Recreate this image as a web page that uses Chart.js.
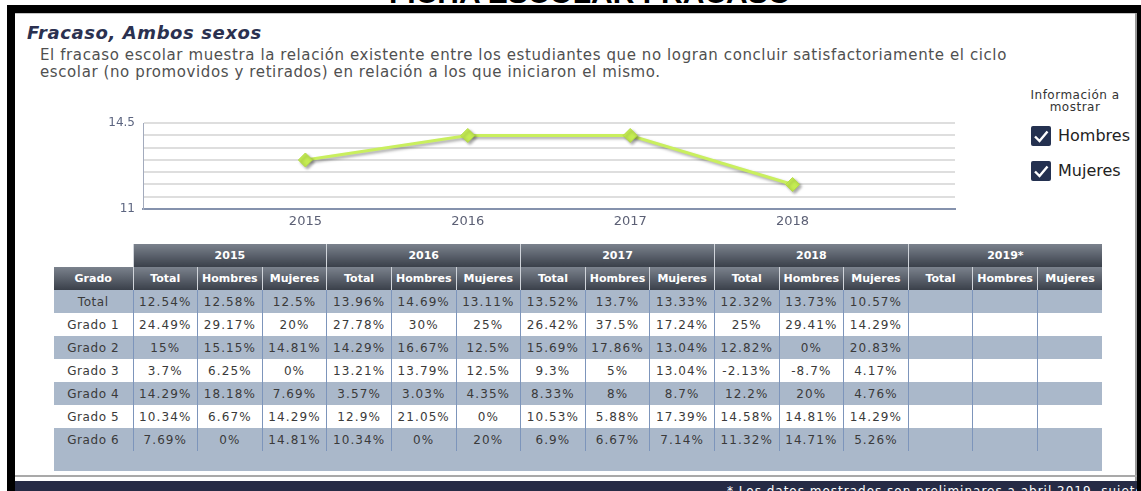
<!DOCTYPE html>
<html>
<head>
<meta charset="utf-8">
<script src="https://cdn.jsdelivr.net/npm/chart.js@4.4.1/dist/chart.umd.min.js"></script>
<style>
  html, body { margin: 0; padding: 0; background: #fff; }
  body { width: 1141px; height: 491px; position: relative; overflow: hidden; font-family: "DejaVu Sans", Verdana, sans-serif; }
  .abs { position: absolute; }
  .heading { left: 290px; top: -22px; width: 600px; text-align: center; font: bold 30px/30px "Liberation Sans", Arial, sans-serif; color: #000; }
  .bar { background: #000; }
  .title { left: 27px; top: 23px; font-size: 18px; line-height: 20px; letter-spacing: 0.6px; font-weight: bold; font-style: italic; color: #2b3150; white-space: nowrap; }
  .desc { left: 40px; top: 47px; font-size: 15px; line-height: 17px; letter-spacing: 0.6px; color: #505050; white-space: nowrap; }
  .info { left: 1015px; top: 89px; width: 120px; text-align: center; font-size: 12px; line-height: 12px; letter-spacing: 0.5px; color: #333; }
  .chk { width: 20px; height: 20px; background: #243150; border-radius: 2px; }
  .chklbl { font-size: 16px; line-height: 20px; color: #222; }
  table { border-collapse: collapse; table-layout: fixed; font-size: 12px; letter-spacing: 1.1px; color: #3a3a3a; }
  td, th { padding: 0; text-align: center; white-space: nowrap; overflow: hidden; }
  th { color: #fff; font-weight: bold; font-size: 11px; letter-spacing: 0; background: linear-gradient(#7b828d, #3a404a); border-left: 1px solid #d0d4da; }
  tr.yr th { height: 21px; }
  tr.sub th { height: 23px; }
  td { height: 23px; border-left: 1px solid #7d95bb; }
  td.g { border-left: none; letter-spacing: 0.6px; }
  tr.sh td { background: #aab8ca; }
  tr.blank td { height: 20px; border-left: none; background: #aab8ca; }
  .foot { left: 15px; top: 481px; width: 1122px; height: 10px; background: #262b45; overflow: hidden; }
  .foot span { position: absolute; left: 712px; top: 3px; color: #fff; font-size: 12px; letter-spacing: 1px; white-space: nowrap; }
</style>
</head>
<body>
<div class="abs heading">FICHA ESCOLAR FRACASO</div>
<div class="abs bar" style="left:7px;top:5px;width:1134px;height:8px"></div>
<div class="abs bar" style="left:7px;top:5px;width:8px;height:486px"></div>
<div class="abs bar" style="left:1137px;top:5px;width:4px;height:486px"></div>
<div class="abs" style="left:15px;top:13px;width:1122px;height:1px;background:#c4c4c4"></div>
<div class="abs" style="left:1135px;top:13px;width:2px;height:468px;background:#9a9a9a"></div>
<div class="abs" style="left:15px;top:475px;width:1122px;height:2px;background:#a9a9a9"></div>
<div class="abs foot"><span>* Los datos mostrados son preliminares a abril 2019, sujetos a modificación</span></div>

<div class="abs title">Fracaso, Ambos sexos</div>
<div class="abs desc">El fracaso escolar muestra la relación existente entre los estudiantes que no logran concluir satisfactoriamente el ciclo<br>escolar (no promovidos y retirados) en relación a los que iniciaron el mismo.</div>

<div class="abs info">Información a<br>mostrar</div>
<div class="abs chk" style="left:1031px;top:126px"><svg width="20" height="20"><path d="M4 10.5 L8.5 15 L16.5 5.5" stroke="#fff" stroke-width="2.4" fill="none"/></svg></div>
<div class="abs chklbl" style="left:1058px;top:126px">Hombres</div>
<div class="abs chk" style="left:1031px;top:161px"><svg width="20" height="20"><path d="M4 10.5 L8.5 15 L16.5 5.5" stroke="#fff" stroke-width="2.4" fill="none"/></svg></div>
<div class="abs chklbl" style="left:1058px;top:161px">Mujeres</div>

<canvas id="grafica" class="abs" style="left:80px;top:108px" width="890" height="129"></canvas>

<table id="tabla" class="abs" style="left:54px;top:244px;width:1048px"></table>

<script>
// line chart: yearly failure rate (rounded), empty slots at both ends
const anios = ["2015", "2016", "2017", "2018"];
const ejeX = ["", ...anios, ""];
const fracasoTotal = [null, 13, 14, 14, 12, null];

// table
const aniosTabla = ["2015", "2016", "2017", "2018", "2019*"];
const columnas = ["Total", "Hombres", "Mujeres"];
const grados = ["Total", "Grado 1", "Grado 2", "Grado 3", "Grado 4", "Grado 5", "Grado 6"];
// rows: [Total, Hombres, Mujeres] per grado
const tabla2015 = [[12.54, 12.58, 12.5], [24.49, 29.17, 20], [15, 15.15, 14.81], [3.7, 6.25, 0], [14.29, 18.18, 7.69], [10.34, 6.67, 14.29], [7.69, 0, 14.81]];
const tabla2016 = [[13.96, 14.69, 13.11], [27.78, 30, 25], [14.29, 16.67, 12.5], [13.21, 13.79, 12.5], [3.57, 3.03, 4.35], [12.9, 21.05, 0], [10.34, 0, 20]];
const tabla2017 = [[13.52, 13.7, 13.33], [26.42, 37.5, 17.24], [15.69, 17.86, 13.04], [9.3, 5, 13.04], [8.33, 8, 8.7], [10.53, 5.88, 17.39], [6.9, 6.67, 7.14]];
const tabla2018 = [[12.32, 13.73, 10.57], [25, 29.41, 14.29], [12.82, 0, 20.83], [-2.13, -8.7, 4.17], [12.2, 20, 4.76], [14.58, 14.81, 14.29], [11.32, 14.71, 5.26]];
const tabla2019 = [[], [], [], [], [], [], []];
const tablas = [tabla2015, tabla2016, tabla2017, tabla2018, tabla2019];

// build table
const tbl = document.getElementById("tabla");
let html = '<colgroup><col style="width:79px">';
for (let i = 0; i < 15; i++) html += '<col style="width:64.6px">';
html += '</colgroup><tr class="yr"><td class="g" style="border:none;background:#fff"></td>';
aniosTabla.forEach((a) => { html += '<th colspan="3">' + a + '</th>'; });
html += '</tr><tr class="sub"><th style="border-left:none">Grado</th>';
aniosTabla.forEach(() => columnas.forEach((c) => { html += '<th>' + c + '</th>'; }));
html += '</tr>';
grados.forEach((g, r) => {
  html += '<tr class="' + (r % 2 === 0 ? 'sh' : '') + '"><td class="g">' + g + '</td>';
  tablas.forEach((t) => {
    for (let c = 0; c < 3; c++) {
      const v = t[r][c];
      html += '<td>' + (v === undefined ? '' : v + '%') + '</td>';
    }
  });
  html += '</tr>';
});
html += '<tr class="blank"><td colspan="16"></td></tr>';
tbl.innerHTML = html;

// drop shadow under line and markers
const sombra = {
  id: "sombra",
  beforeDatasetsDraw(chart) {
    const ctx = chart.ctx;
    ctx.save();
    ctx.shadowColor = "rgba(0,0,0,0.35)";
    ctx.shadowOffsetX = 2;
    ctx.shadowOffsetY = 2;
    ctx.shadowBlur = 3;
  },
  afterDatasetsDraw(chart) {
    chart.ctx.restore();
  },
};

new Chart(document.getElementById("grafica").getContext("2d"), {
  type: "line",
  data: {
    labels: ejeX,
    datasets: [
      {
        label: "Fracaso",
        data: fracasoTotal,
        borderColor: "#c9ef5e",
        backgroundColor: "#c4ec52",
        borderWidth: 3,
        pointStyle: "rectRot",
        pointRadius: 7,
        pointBorderColor: "#b5dc44",
        pointBorderWidth: 1,
        tension: 0,
        spanGaps: false,
      },
    ],
  },
  options: {
    responsive: false,
    animation: false,
    devicePixelRatio: 1,
    layout: { padding: { top: 2, right: 15, bottom: 0, left: 0 } },
    plugins: { legend: { display: false }, tooltip: { enabled: false } },
    scales: {
      x: {
        offset: false,
        afterFit: (s) => { s.height = 28; },
        grid: { display: false, drawTicks: false },
        border: { display: true, color: "#8592ad", width: 2 },
        ticks: { color: "#5c6075", font: { size: 13, family: "DejaVu Sans" }, padding: 5, autoSkip: false, maxRotation: 0 },
      },
      y: {
        min: 11,
        max: 14.5,
        afterFit: (s) => { s.width = 63; },
        grid: { color: "#dedede", lineWidth: 2, drawTicks: false },
        border: { display: true, color: "#a3abbd", width: 1 },
        ticks: {
          stepSize: 0.5,
          autoSkip: false,
          padding: 8,
          color: "#5c6580",
          font: { size: 12, family: "DejaVu Sans" },
          callback: (v) => (v === 11 || v === 14.5 ? v : ""),
        },
      },
    },
  },
  plugins: [sombra],
});
</script>
</body>
</html>
